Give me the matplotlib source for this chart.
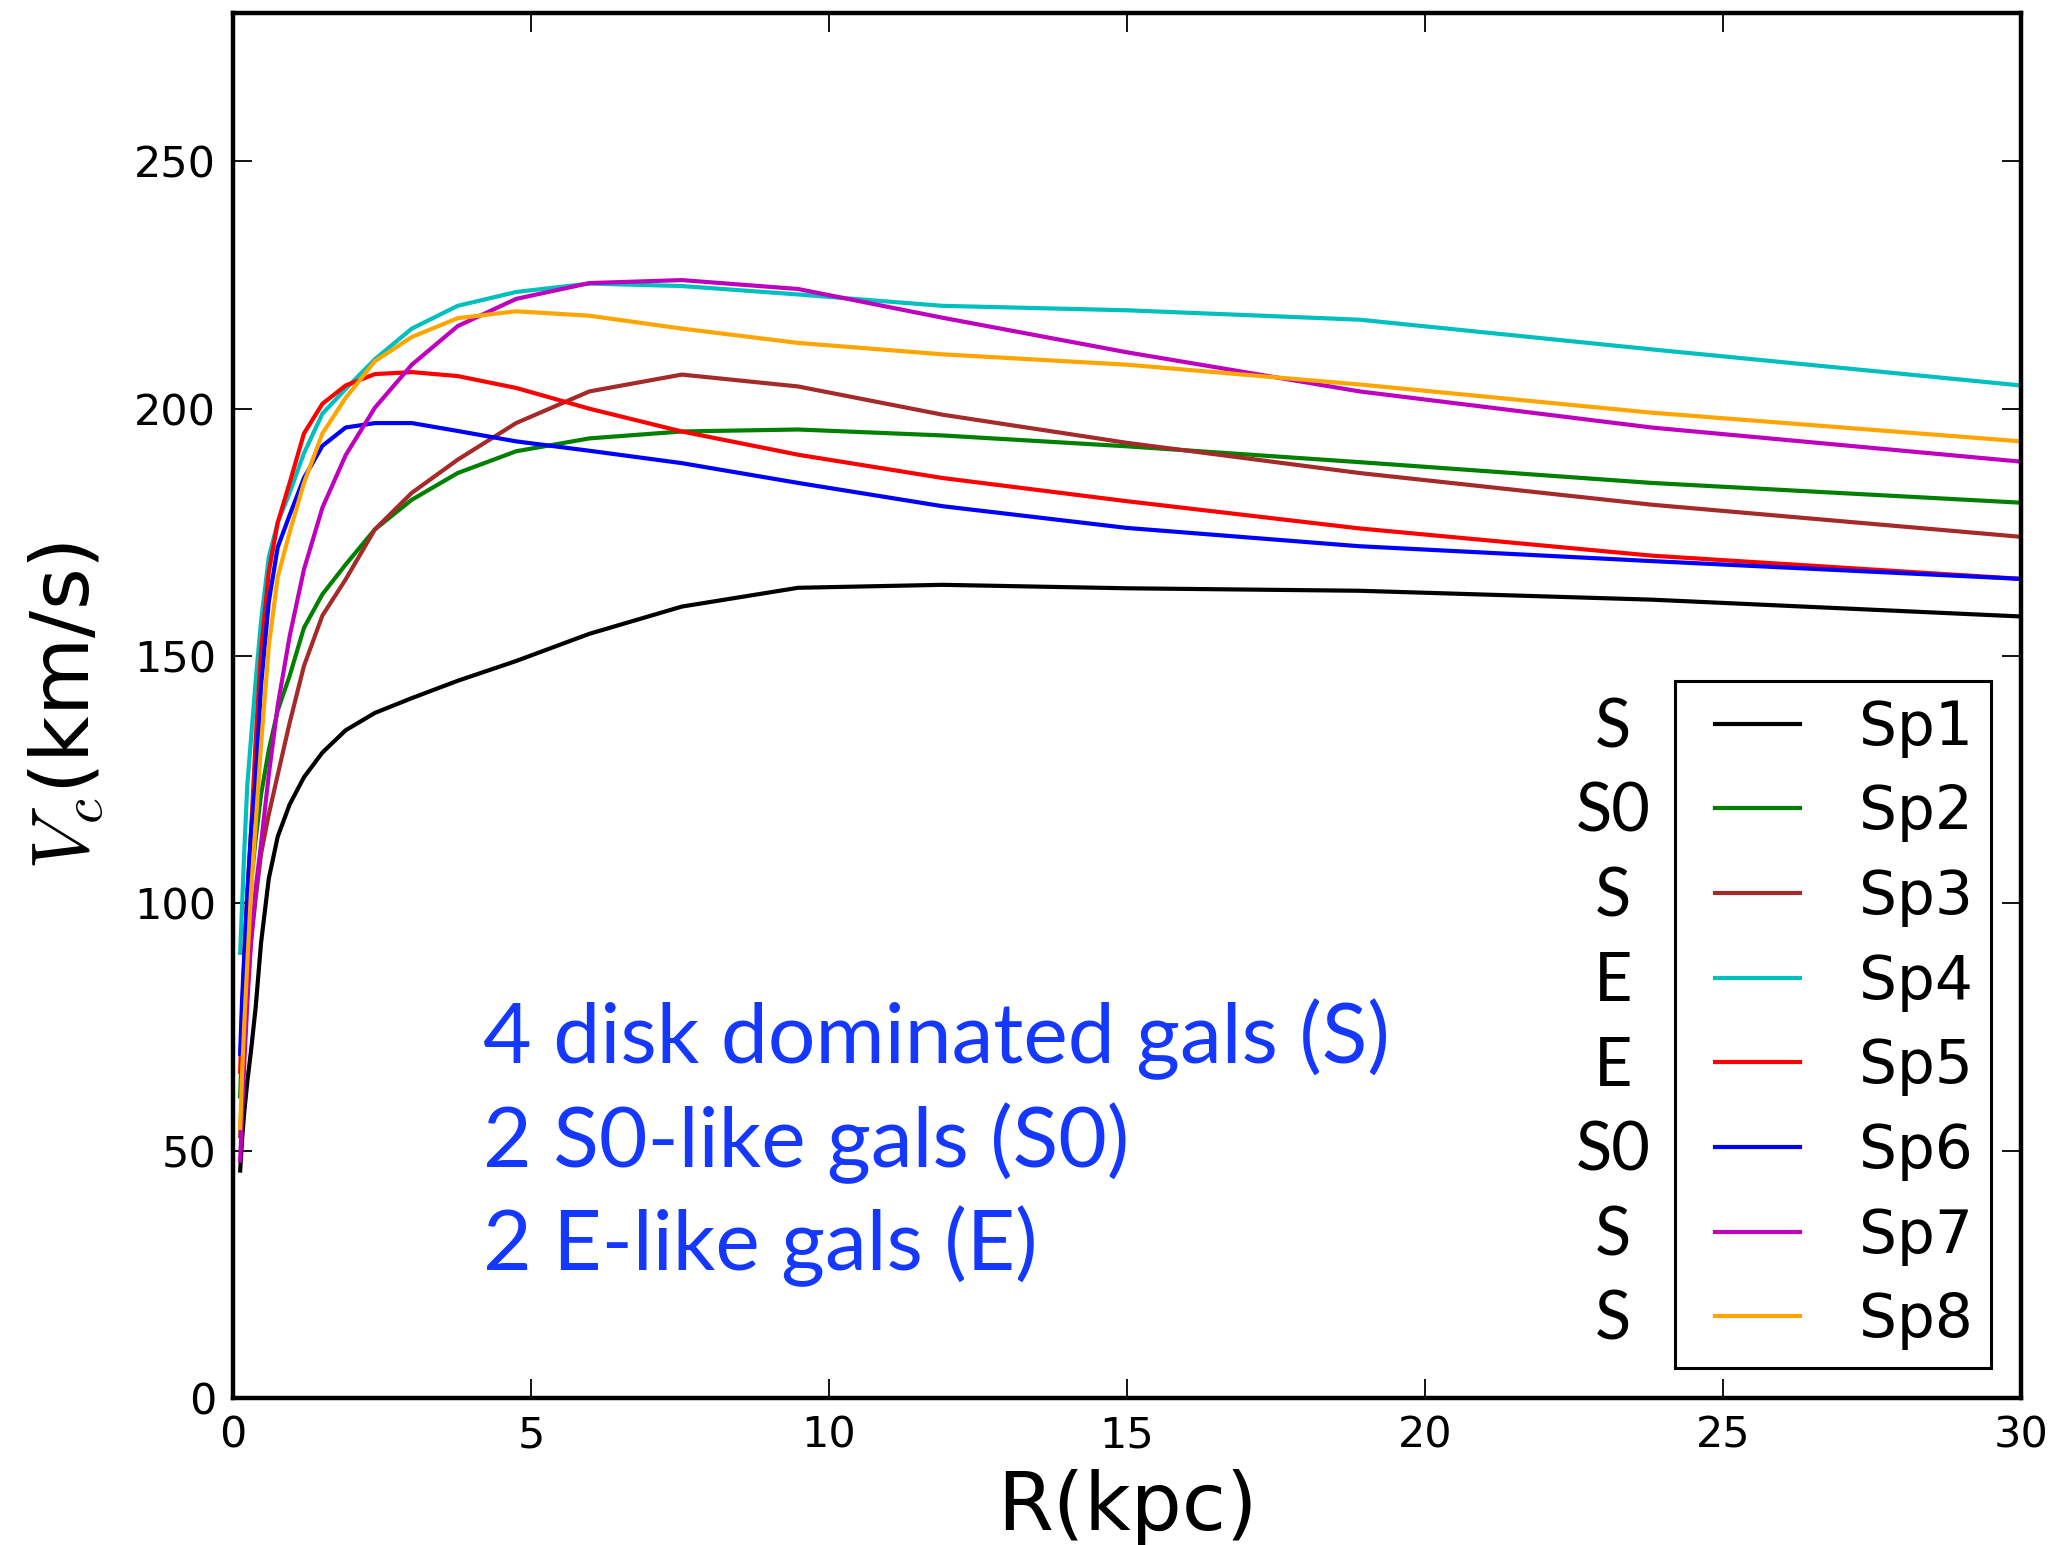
import matplotlib
matplotlib.use("Agg")
import matplotlib.pyplot as plt
from matplotlib.legend_handler import HandlerLine2D
from matplotlib.lines import Line2D

plt.rcParams['mathtext.fontset'] = 'cm'
plt.rcParams['font.family'] = 'DejaVu Sans'

# radius grid (kpc)
R = [0.12, 0.15, 0.19, 0.24, 0.30, 0.38, 0.47, 0.60, 0.75, 0.95, 1.19, 1.50,
     1.89, 2.38, 3.00, 3.77, 4.75, 5.98, 7.53, 9.48, 11.9, 15.0, 18.9, 23.8, 30.0]

sp1 = [46, 52, 58, 64, 70, 79, 92, 105, 113.5, 120, 125.5, 130.5,
       135, 138.5, 141.5, 145, 149, 154.5, 160, 163.8, 164.4, 163.7, 163.2, 161.4, 158]
sp2 = [61, 72, 83, 94, 104, 113, 122, 131, 139, 146, 155.7, 162.5,
       168.5, 175.6, 181.6, 187, 191.4, 194, 195.4, 195.8, 194.6, 192.4, 189.2, 185, 181]
sp3 = [53, 62, 72, 82, 92, 101, 110, 118, 126, 136.5, 148, 158.2,
       165.5, 175.6, 183, 189.7, 197.1, 203.5, 206.9, 204.5, 198.8, 193.1, 187, 180.6, 174.1]
sp4 = [90, 99, 111, 124, 133, 145, 157, 170, 177, 183, 191, 199,
       204, 210, 216.2, 220.8, 223.6, 225.3, 224.8, 223.1, 220.8, 219.9, 218, 212, 204.7]
sp5 = [66, 77, 89, 102, 114, 133, 151, 167, 177, 185, 195, 201,
       204.7, 207, 207.4, 206.6, 204.2, 200, 195.4, 190.7, 186, 181.3, 175.8, 170.3, 165.6]
sp6 = [69.6, 80, 90, 102, 114, 125, 144, 161, 172, 178.5, 186, 192.5,
       196.2, 197.1, 197.1, 195.5, 193.4, 191.5, 189, 185, 180.3, 175.9, 172.2, 169.2, 165.6]
sp7 = [48, 57, 68, 80, 92, 103, 112, 126, 140, 154, 167.5, 180,
       190.6, 200.2, 208.9, 216.7, 222.2, 225.4, 226, 224.2, 218.4, 211.4, 203.5, 196.2, 189.3]
sp8 = [54.6, 65, 76, 88, 102, 116, 132, 152, 166, 175, 185, 195,
       202.2, 209.6, 214.5, 218.3, 219.7, 218.8, 216.2, 213.3, 211, 208.9, 204.9, 199.2, 193.4]

names = ['Sp1', 'Sp2', 'Sp3', 'Sp4', 'Sp5', 'Sp6', 'Sp7', 'Sp8']
types = ['S', 'S0', 'S', 'E', 'E', 'S0', 'S', 'S']
colors = ['k', 'g', 'brown', 'c', 'r', 'b', 'm', 'orange']
curves = [sp1, sp2, sp3, sp4, sp5, sp6, sp7, sp8]

note_lines = ['4 disk dominated gals (S)', '2 S0-like gals (S0)', '2 E-like gals (E)']

fig = plt.figure(figsize=(20.64, 15.45), dpi=100)
ax = fig.add_axes([0.1129, 0.0951, 0.8663, 0.8965])

for v, c, n in zip(curves, colors, names):
    ax.plot(R, v, color=c, lw=3, label=n)

ax.set_xlim(0, 30)
ax.set_ylim(0, 280)
ax.set_xticks([0, 5, 10, 15, 20, 25, 30])
ax.set_yticks([0, 50, 100, 150, 200, 250])
ax.tick_params(direction='in', length=14, width=1.3, labelsize=31, pad=12,
               top=True, right=True)
for s in ax.spines.values():
    s.set_linewidth(3.2)

ax.set_xlabel('R(kpc)', fontsize=58, labelpad=9)
ax.set_ylabel(r'$V_c$(km/s)', fontsize=58, labelpad=20)

leg = ax.legend(loc='lower right', fontsize=43, handlelength=1.78,
                handletextpad=1.0, borderpad=0.3, labelspacing=0.43,
                fancybox=False, framealpha=1,
                handler_map={Line2D: HandlerLine2D(xpad=0.37)})
leg.get_frame().set_edgecolor('k')
leg.get_frame().set_linewidth(2.2)

for i, t in enumerate(note_lines):
    ax.text(4.2, 67.6 - 20.9 * i, t, fontsize=60.5, family='Lato',
            color='#1438ff', va='baseline')

# type labels next to legend rows
fig.canvas.draw()
inv = ax.transData.inverted()
for txt, typ in zip(leg.get_texts(), types):
    bb = txt.get_window_extent()
    yc = inv.transform((0, (bb.y0 + bb.y1) / 2))[1]
    ax.text(23.15, yc, typ, fontsize=48, family='Lato', color='k',
            ha='center', va='center')

fig.savefig('out.png', dpi=100)
